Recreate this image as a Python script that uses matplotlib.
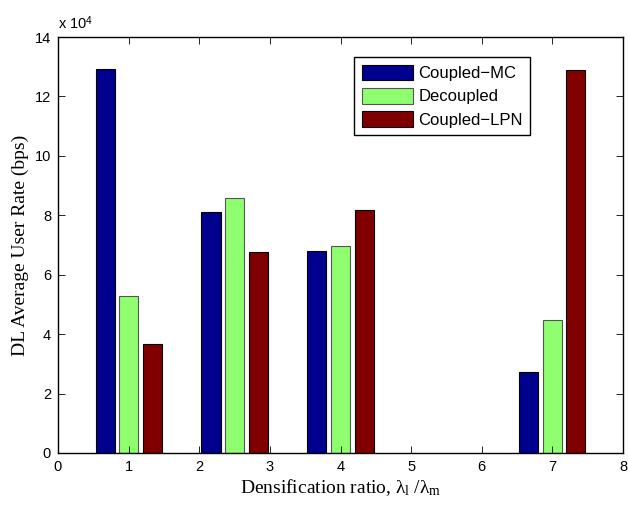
import matplotlib
matplotlib.use('Agg')
import matplotlib.pyplot as plt
import numpy as np

plt.rcParams['mathtext.fontset'] = 'custom'
plt.rcParams['mathtext.rm'] = 'Liberation Serif'
plt.rcParams['mathtext.it'] = 'Liberation Serif'
plt.rcParams['mathtext.sf'] = 'Liberation Sans'

# densification ratio groups and user rates (bps)
ratios = [1, 2.5, 4, 7]
coupled_mc = [129300, 81100, 68000, 27200]
decoupled = [52700, 85800, 69700, 44800]
coupled_lpn = [36800, 67800, 81700, 128900]
series_names = ['Coupled\u2212MC', 'Decoupled', 'Coupled\u2212LPN']
colors = ['#00008F', '#8FFF70', '#800000']

fig = plt.figure(figsize=(6.28, 5.05), dpi=100)
ax = fig.add_axes([58/628, 1 - 453/505, 565/628, 416/505])

x = np.array(ratios)
offsets = [-1/3, 0, 1/3]
width = 0.27
for vals, off, c, name in zip([coupled_mc, decoupled, coupled_lpn], offsets, colors, series_names):
    ec = '#555555' if c == '#8FFF70' else 'black'
    ax.bar(x + off, np.array(vals) / 1e4, width=width, color=c, edgecolor=ec,
           linewidth=0.8, label=name)

ax.set_xlim(0, 8)
ax.set_ylim(0, 14)
ax.set_xticks(range(0, 9))
ax.set_yticks(range(0, 15, 2))
ax.tick_params(direction='in', top=True, right=True, labelsize=10.5, length=5,
               width=0.6, pad=5)
for lbl in ax.get_xticklabels() + ax.get_yticklabels():
    lbl.set_family('Liberation Sans')
for s in ax.spines.values():
    s.set_linewidth(1.0)

ax.text(0, 1.012, r'x 10$^\mathsf{4}$', transform=ax.transAxes, fontsize=10.5,
        family='Liberation Sans', ha='left', va='bottom')

ax.set_xlabel(r'Densification ratio, $\lambda_{\mathrm{l}}$ /$\lambda_{\mathrm{m}}$',
              fontsize=14, family='Liberation Serif', labelpad=2)
ax.set_ylabel('DL Average User Rate (bps)', fontsize=14,
              family='Liberation Serif', labelpad=4)

leg = ax.legend(loc='upper left', bbox_to_anchor=(296/565, 1 - 20/416),
                prop={'family': 'Liberation Sans', 'size': 12},
                fancybox=False, framealpha=1, edgecolor='black',
                handlelength=3.1, handleheight=1.08, handletextpad=0.3,
                borderpad=0.45, labelspacing=0.4, borderaxespad=0)
leg.get_frame().set_linewidth(1.0)

fig.savefig('out.png', dpi=100)
